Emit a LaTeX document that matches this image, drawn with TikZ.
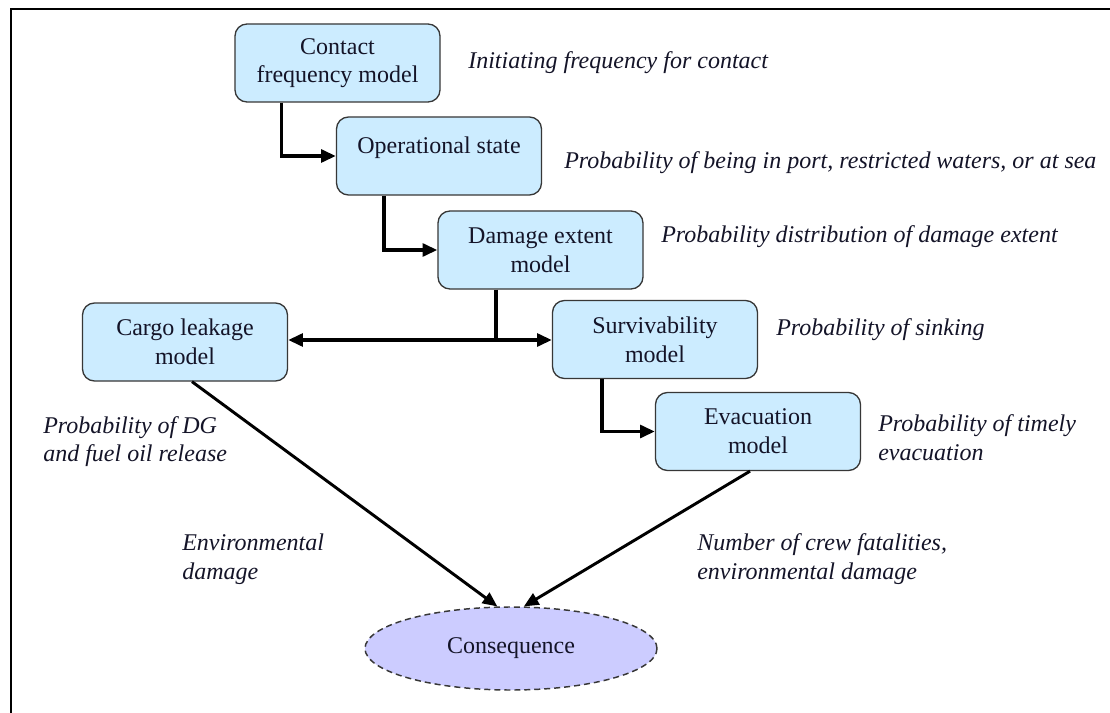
\documentclass[tikz,border=0pt]{standalone}
\usepackage{fontspec}
\setmainfont{Liberation Serif}
\usetikzlibrary{arrows.meta,shapes.geometric}
\definecolor{boxfill}{RGB}{204,236,255}
\definecolor{ellfill}{RGB}{204,204,255}
\definecolor{edgegray}{RGB}{55,55,55}
\definecolor{inktext}{RGB}{20,20,40}
\begin{document}
\begin{tikzpicture}[x=0.75pt,y=-0.75pt,
  model/.style={draw=edgegray,line width=1pt,fill=boxfill,rounded corners=9pt,
    minimum width=153.75pt,minimum height=58.5pt,inner sep=0pt,align=center,
    text=inktext,font=\fontsize{18}{21.5}\selectfont},
  plain/.style={inner sep=0pt,text=inktext,font=\fontsize{18}{21.5}\selectfont},
  note/.style={anchor=west,inner sep=0pt,align=left,text=inktext,
    font=\fontsize{18}{21.5}\selectfont\itshape},
  flow/.style={line width=2.6pt,-{Triangle[length=11pt,width=9.5pt]}},
  trunk/.style={line width=2.6pt},
  diag/.style={line width=2.2pt,-{Triangle[length=11pt,width=9.5pt]}},
  outcome/.style={ellipse,draw=edgegray,line width=1.1pt,dash pattern=on 4.5pt off 3pt,
    fill=ellfill,minimum width=219pt,minimum height=62.25pt,inner sep=0pt,
    text=inktext,font=\fontsize{18}{21.5}\selectfont}]
\useasboundingbox (0,0) rectangle (1110,713);
\fill[white] (0,0) rectangle (1110,713);
% outer frame (runs past the right and lower edges)
\draw[line width=1.5pt] (11,9) rectangle (1130,740);

% model chain
\node[model] (contact) at (337.5,63) {Contact\\frequency model};
\node[model] (op) at (439,156) {};
\node[plain] (optext) at (439,148) {Operational state};
\node[model] (damage) at (540.5,250) {Damage extent\\model};
\node[model] (cargo) at (185,342) {Cargo leakage\\model};
\node[model] (surv) at (655,339.5) {Survivability\\model};
\node[model] (evac) at (758,431.5) {Evacuation\\model};
\node[outcome] (cons) at (511,648.5) {Consequence};

% connectors
\draw[flow] ([xshift=-42pt]contact.south) |- (op.west);
\draw[flow] ([xshift=-41.25pt]op.south) |- (damage.west);
\coordinate (split) at (496,340);
\draw[trunk] (damage.south -| split) -- (split);
\draw[flow] (split) -- (split -| cargo.east);
\draw[flow] (split) -- (split -| surv.west);
\draw[flow] ([xshift=-39.75pt]surv.south) |- (evac.west);
\draw[diag] ([xshift=5.25pt]cargo.south) -- (cons.108);
\draw[diag] ([xshift=-6pt]evac.south) -- (cons.73);

% annotations
\node[note] (lcontact) at (468,63) {Initiating frequency for contact};
\node[note] (lop) at (564,163) {Probability of being in port, restricted waters, or at sea};
\node[note] (ldamage) at (661,237) {Probability distribution of damage extent};
\node[note] (lsurv) at (776,330) {Probability of sinking};
\node[note] (levac) at (878,437.5) {Probability of timely\\evacuation};
\node[note] (lcargo) at (43,441.5) {Probability of DG\\and fuel oil release};
\node[note] (lenv) at (182,559.5) {Environmental\\damage};
\node[note] (lcrew) at (697,559) {Number of crew fatalities,\\environmental damage};
\end{tikzpicture}
\end{document}
